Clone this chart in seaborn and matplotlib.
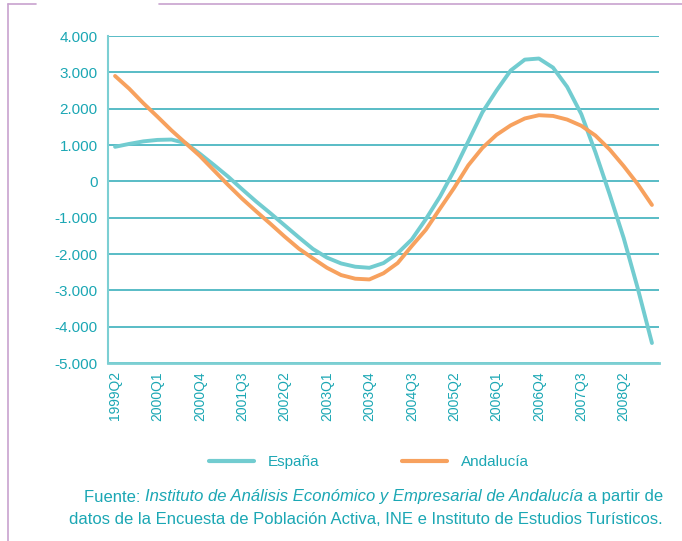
import pandas as pd
import matplotlib
matplotlib.use("Agg")
import matplotlib.pyplot as plt
from matplotlib.lines import Line2D
import seaborn as sns

# quarterly series, 1999Q2 .. 2008Q4
years = [1999] * 3 + [y for y in range(2000, 2009) for _ in range(4)]
quarters = [2, 3, 4] + [1, 2, 3, 4] * 9
periods = [f"{y}Q{q}" for y, q in zip(years, quarters)]

espana = [950, 1030, 1100, 1140, 1150, 1050, 760, 450, 130, -220,
          -560, -880, -1210, -1540, -1860, -2100, -2260, -2350, -2380, -2250,
          -1980, -1600, -1040, -420, 300, 1100, 1900, 2500, 3050, 3350,
          3380, 3130, 2600, 1850, 800, -350, -1560, -2950, -4450]
andalucia = [2900, 2550, 2150, 1780, 1400, 1050, 700, 300, -100, -480,
             -830, -1170, -1520, -1850, -2120, -2380, -2580, -2680, -2700, -2530,
             -2250, -1780, -1330, -750, -180, 440, 920, 1280, 1540, 1730,
             1820, 1800, 1700, 1530, 1260, 880, 420, -80, -650]

series = ["España", "Andalucía"]
colors = ["#72CCD0", "#F7A15E"]
y_ticks = [4000, 3000, 2000, 1000, 0, -1000, -2000, -3000, -4000, -5000]

teal_txt = "#1BA7B4"
grid_col = "#2BAAB6"
purple = "#C8A2CE"

df = pd.DataFrame({
    "idx": list(range(len(periods))) * 2,
    "valor": espana + andalucia,
    "serie": [series[0]] * len(periods) + [series[1]] * len(periods),
})

sns.set_style("white")
plt.rcParams["font.family"] = ["Liberation Sans", "DejaVu Sans"]

fig = plt.figure(figsize=(6.82, 5.41), dpi=100)
ax = fig.add_axes([108 / 682, 1 - 363 / 541, 551 / 682, 327 / 541])

sns.lineplot(data=df, x="idx", y="valor", hue="serie", palette=colors,
             linewidth=2.8, ax=ax, legend=False, sort=False)

ax.set_xlim(-0.5, len(periods) - 0.5)
ax.set_ylim(-5000, 4000)
ax.set_yticks(y_ticks)
ax.set_yticklabels([f"{v:,}".replace(",", ".") for v in y_ticks],
                   color=teal_txt, fontsize=11)
xt = list(range(0, len(periods), 3))
ax.set_xticks(xt)
ax.set_xticklabels([periods[i] for i in xt], rotation=90, color=teal_txt,
                   fontsize=10)
ax.tick_params(axis="y", length=0, pad=7.5)
ax.tick_params(axis="x", length=0, pad=6)
ax.set_xlabel("")
ax.set_ylabel("")

ax.grid(axis="y", color=grid_col, linewidth=1.1)
ax.set_axisbelow(True)
for s in ["top", "right"]:
    ax.spines[s].set_visible(False)
ax.spines["left"].set_color("#7CCFD3")
ax.spines["left"].set_linewidth(1.5)
ax.spines["bottom"].set_color("#7CCFD3")
ax.spines["bottom"].set_linewidth(2)

# legend
handles = [Line2D([], [], color=c, linewidth=3) for c in colors]
fig.legend(handles, series, loc="center", bbox_to_anchor=(369 / 682, 1 - 462 / 541),
           ncol=2, frameon=False, handlelength=2.95, handletextpad=0.9,
           columnspacing=5.4, labelcolor=teal_txt, fontsize=11)

# source note, right aligned, with italic part
renderer = fig.canvas.get_renderer()


def right_line(pieces, y):
    x = 663 / 682
    for txt, style in reversed(pieces):
        t = fig.text(x, y, txt, ha="right", va="center", color=teal_txt,
                     fontsize=12, style=style)
        bb = t.get_window_extent(renderer)
        x = bb.x0 / fig.bbox.width


right_line([("Fuente: ", "normal"),
            ("Instituto de Análisis Económico y Empresarial de Andalucía", "italic"),
            (" a partir de", "normal")], 1 - 497 / 541)
right_line([("datos de la Encuesta de Población Activa, INE e Instituto de Estudios Turísticos.",
             "normal")], 1 - 520 / 541)

# decorative frame
fig.add_artist(Line2D([8 / 682, 8 / 682], [1 - 4 / 541, 0], color=purple, linewidth=1.2))
fig.add_artist(Line2D([8 / 682, 36 / 682], [1 - 4 / 541, 1 - 4 / 541], color=purple, linewidth=1.2))
fig.add_artist(Line2D([159 / 682, 1], [1 - 4 / 541, 1 - 4 / 541], color=purple, linewidth=1.2))

fig.savefig("out.png", dpi=100)
